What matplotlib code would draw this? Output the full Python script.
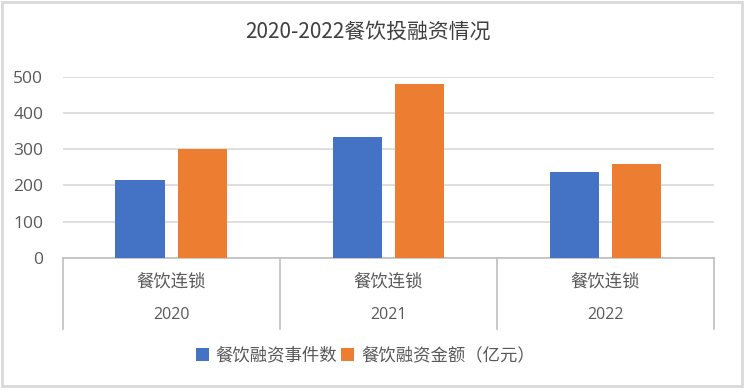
import matplotlib.pyplot as plt
import matplotlib.transforms as mtransforms
from matplotlib.patches import Rectangle
import numpy as np

plt.rcParams['font.family'] = ['Noto Sans CJK SC', 'DejaVu Sans']

years = ['2020', '2021', '2022']
category = '餐饮连锁'
event_counts = [215, 335, 237]
amounts = [300, 480, 259]
series_names = ['餐饮融资事件数', '餐饮融资金额（亿元）']
colors = ['#4472C4', '#ED7D31']
text_color = '#595959'

fig = plt.figure(figsize=(7.44, 3.92), dpi=100)
ax = fig.add_axes([0.0843, 0.3418, 0.8754, 0.4625])

x = np.arange(len(years))
w = 0.226
off = 0.144
b1 = ax.bar(x - off, event_counts, w, color=colors[0], label=series_names[0], zorder=3)
b2 = ax.bar(x + off, amounts, w, color=colors[1], label=series_names[1], zorder=3)

ax.set_xlim(-0.5, len(years) - 0.5)
ax.set_ylim(0, 500)
ax.set_yticks(range(0, 501, 100))
ax.yaxis.grid(True, color='#d9d9d9', lw=1.2, zorder=0)
for s in ['top', 'right', 'left']:
    ax.spines[s].set_visible(False)
ax.spines['bottom'].set_color('#bfbfbf')
ax.spines['bottom'].set_linewidth(1.2)
ax.tick_params(axis='y', length=0, labelsize=12.5, labelcolor=text_color, pad=14)
for lbl in ax.get_yticklabels():
    lbl.set_family('Open Sans')
ax.set_xticks([])

# two-level category axis: category row, then year row
trans = mtransforms.blended_transform_factory(ax.transData, ax.transAxes)
for xs in np.arange(-0.5, len(years), 1.0):
    ax.plot([xs, xs], [0, -0.39], color='#bfbfbf', lw=1.2, transform=trans, clip_on=False)
for i, yr in enumerate(years):
    ax.text(i, -0.13, category, transform=trans, ha='center', va='center',
            fontsize=12.5, color=text_color)
    ax.text(i, -0.315, yr, transform=trans, ha='center', va='center',
            fontsize=11.5, color=text_color, family='Open Sans')

fig.text(0.495, 0.918, '2020-2022餐饮投融资情况', ha='center', va='center',
         fontsize=15, color='#404040')

leg = fig.legend(handles=[b1, b2], loc='center', bbox_to_anchor=(0.491, 0.093), ncol=2,
                 frameon=False, fontsize=12.5, handlelength=0.75, handleheight=0.75,
                 handletextpad=0.4, columnspacing=0.2)
for t in leg.get_texts():
    t.set_color(text_color)

fig.patches.append(Rectangle((0.003, 0.016), 0.994, 0.978, transform=fig.transFigure,
                             fill=False, edgecolor='#d9d9d9', lw=2))

fig.savefig('out.png', dpi=100)
